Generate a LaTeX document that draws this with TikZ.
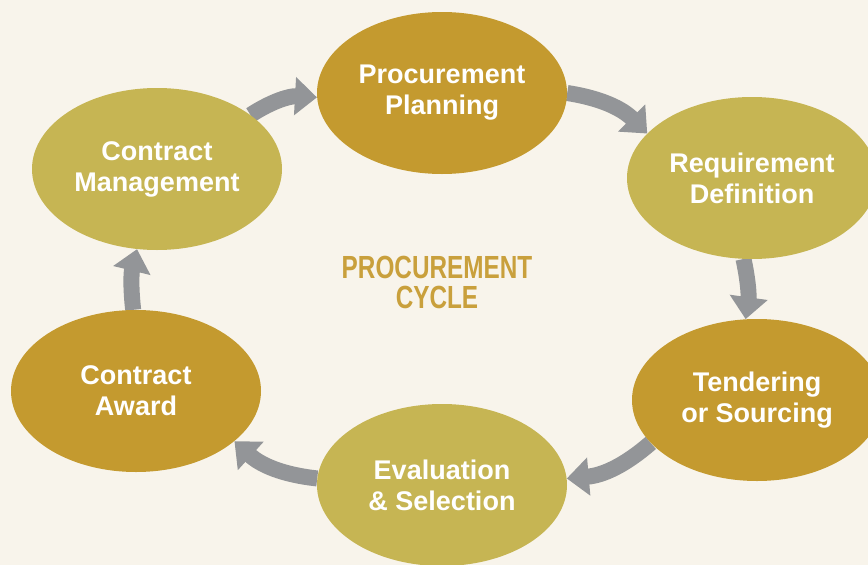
\documentclass[tikz,border=0pt]{standalone}
\usepackage{fontspec}
\setmainfont{Liberation Sans}
\newfontfamily\narrowfont[FakeStretch=0.76]{Liberation Sans}
\usepackage{tikz}
\usetikzlibrary{arrows.meta,shapes.geometric}

\definecolor{paper}{HTML}{F8F4EB}
\definecolor{darkgold}{HTML}{C49A2F}
\definecolor{olivegold}{HTML}{C6B553}
\definecolor{arrowgray}{HTML}{939598}
\definecolor{titlegold}{HTML}{C9A03C}

\pgfdeclarelayer{bg}
\pgfsetlayers{bg,main}

\begin{document}
\begin{tikzpicture}[x=1pt,y=-1pt,>={Triangle[width=37pt,length=22pt]}]
  \tikzset{phase/.style={ellipse,draw=none,inner sep=0pt,text=white,
                         minimum width=250pt,minimum height=162pt,align=center,
                         font=\bfseries\fontsize{27}{31}\selectfont},
           dark/.style={phase,fill=darkgold},
           light/.style={phase,fill=olivegold},
           flow/.style={->,draw=arrowgray,fill=arrowgray,line width=16pt}}

  \useasboundingbox (0,0) rectangle (868,565);
  \clip (0,0) rectangle (868,565);

  \node[dark]  (pp) at (442,93)  {Procurement\\Planning};
  \node[light] (rd) at (752,178) {Requirement\\Definition};
  \node[dark]  (ts) at (757,400) {Tendering\\or Sourcing};
  \node[light] (es) at (442,485) {Evaluation\\\& Selection};
  \node[dark]  (ca) at (136,391) {Contract\\Award};
  \node[light] (cm) at (157,169) {Contract\\Management};

  \node[text=titlegold,align=center,
        font=\narrowfont\bfseries\fontsize{32}{30}\selectfont]
        (title) at (437,282) {PROCUREMENT\\CYCLE};

  \begin{pgfonlayer}{bg}
    \fill[paper] (0,0) rectangle (868,565);
    \path[every edge/.style={flow}]
          (cm.30)  edge[bend left=18] (pp.182)
          (pp.0)   edge[bend left=18] (rd.157)
          (rd.264) edge[bend left=10] (ts.98)
          (ts.202) edge[bend left=18] (es.3)
          (es.177) edge[bend left=18] (ca.-27)
          (ca.92)  edge[bend left=10] (cm.256);
  \end{pgfonlayer}

\end{tikzpicture}
\end{document}
